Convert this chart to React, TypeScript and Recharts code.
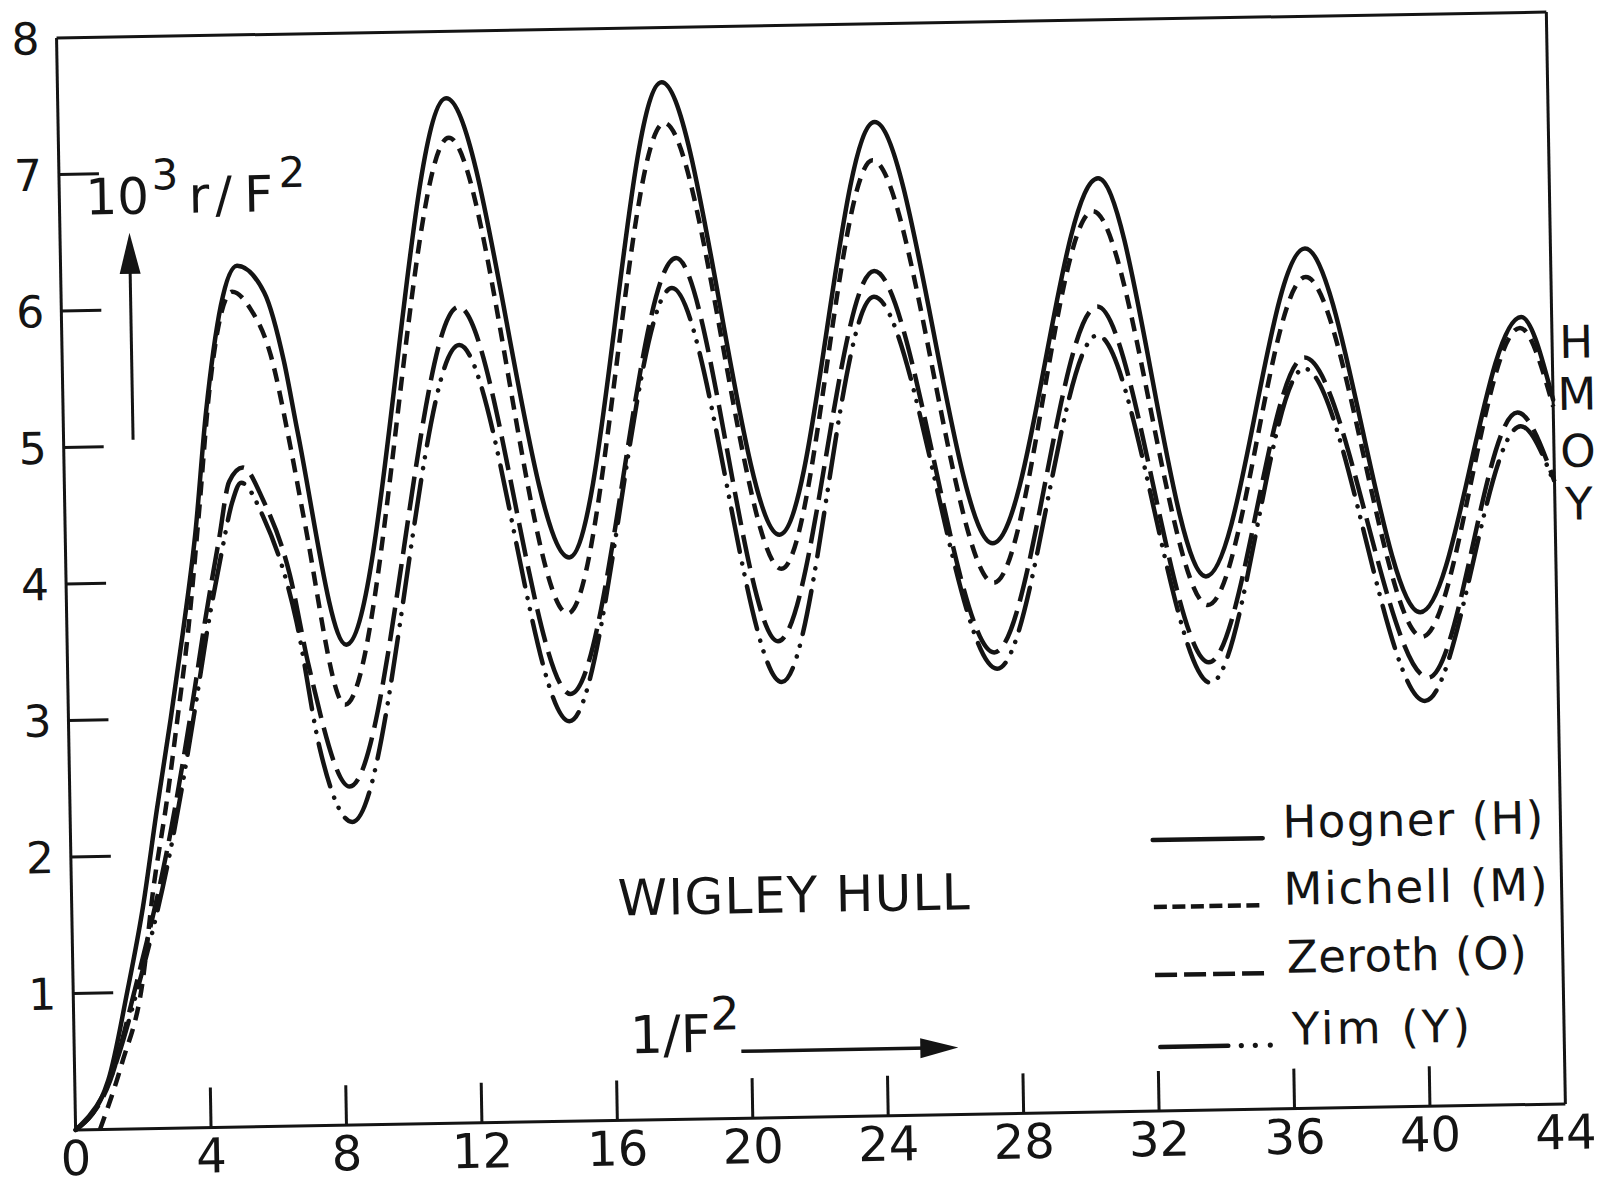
import { LineChart, Line, XAxis, YAxis, ReferenceLine } from "recharts";

type Pt = [number, number];

// 10^3 r/F^2 against 1/F^2 for the Wigley hull, one array per method
const hogner: Pt[] = [
  [0, 0], [0.99, 0.36], [1.6, 1.01], [2.1, 1.62], [2.56, 2.33], [3.02, 3.0],
  [3.43, 3.64], [3.84, 4.35], [4.22, 5.24], [5.21, 6.31],
  [6.0, 6.11], [6.55, 5.6], [6.91, 5.09], [8.24, 3.52], [11.47, 7.51],
  [14.87, 4.13], [17.84, 7.6], [21.09, 4.27], [24.11, 7.28], [27.38, 4.18],
  [30.68, 6.84], [33.66, 3.91], [36.75, 6.3], [39.97, 3.62], [43.1, 5.77],
  [44, 5.16],
];

const michell: Pt[] = [
  [0.72, 0], [1.4, 0.48], [2.05, 1.07], [2.41, 1.74], [2.87, 2.41], [3.22, 3.0],
  [3.58, 3.64], [3.95, 4.48], [4.33, 5.4], [5.05, 6.12],
  [5.59, 5.99], [6.16, 5.65], [6.7, 4.97], [7.05, 4.46], [8.17, 3.08],
  [11.53, 7.22], [14.8, 3.72], [17.9, 7.3], [21.13, 4.02], [24.03, 7.0],
  [27.39, 3.89], [30.51, 6.6], [33.7, 3.7], [36.76, 6.09], [40.01, 3.44],
  [43.06, 5.69], [44, 5.11],
];

const zeroth: Pt[] = [
  [0, 0], [1.05, 0.36], [1.8, 1.0], [2.95, 2.16], [3.74, 3.21], [4.09, 3.72],
  [4.54, 4.31], [4.87, 4.73], [5.28, 4.83], [5.86, 4.59], [6.61, 4.04],
  [7.13, 3.36], [8.27, 2.48], [11.73, 5.98], [14.84, 3.13], [18.18, 6.31],
  [20.99, 3.49], [24.02, 6.19], [27.37, 3.38], [30.59, 5.9], [33.7, 3.28],
  [36.68, 5.5], [40.17, 3.14], [42.94, 5.07], [44, 4.56],
];

const yim: Pt[] = [
  [0, 0], [1.0, 0.34], [1.85, 0.98], [3.0, 2.1], [3.8, 3.15], [4.15, 3.65],
  [4.6, 4.2], [4.95, 4.58], [5.22, 4.72], [5.85, 4.47], [6.78, 3.7],
  [7.4, 2.77], [8.33, 2.22], [11.73, 5.7], [14.79, 2.93], [18.04, 6.09],
  [21.08, 3.19], [24.0, 6.0], [27.45, 3.26], [30.58, 5.69], [33.74, 3.13],
  [36.67, 5.42], [40.06, 2.97], [43.03, 4.97], [44, 4.54],
];

const xTicks = [0, 4, 8, 12, 16, 20, 24, 28, 32, 36, 40, 44];
const yTicks = [1, 2, 3, 4, 5, 6, 7, 8];

const W = 1606;
const H = 1184;
const INK = "#141414";
const FONT = "'DejaVu Sans', sans-serif";
const TICK = 40;

const series = [
  { tag: "H", name: "Hogner (H)", pts: hogner, dash: undefined, cap: "round" },
  { tag: "M", name: "Michell (M)", pts: michell, dash: "14 9", cap: "butt" },
  { tag: "O", name: "Zeroth (O)", pts: zeroth, dash: "34 10", cap: "butt" },
  { tag: "Y", name: "Yim (Y)", pts: yim, dash: "44 12 0.1 11 0.1 12", cap: "round" },
];

const rows = (pts: Pt[]) => pts.map(([x, y]) => ({ x, y }));

const XTick = (props: any) => {
  const { x, y, payload } = props;
  const v = payload.value as number;
  const corner = v === xTicks[0] || v === xTicks[xTicks.length - 1];
  return (
    <g>
      {!corner && (
        <line x1={x} y1={y} x2={x} y2={y - TICK} stroke={INK} strokeWidth={3} />
      )}
      <text x={x} y={y + 45} textAnchor="middle" fontFamily={FONT} fontSize={48} fill={INK}>
        {v}
      </text>
    </g>
  );
};

const YTick = (props: any) => {
  const { x, y, payload } = props;
  const v = payload.value as number;
  const top = v === yTicks[yTicks.length - 1];
  return (
    <g>
      {!top && (
        <line x1={x} y1={y} x2={x + TICK} y2={y} stroke={INK} strokeWidth={3} />
      )}
      <text x={x - 31} y={y} dy="0.36em" textAnchor="middle" fontFamily={FONT} fontSize={44} fill={INK}>
        {v}
      </text>
    </g>
  );
};

// legend sample strokes
function Sample({ tag, y }: { tag: string; y: number }) {
  const x0 = 1148;
  const x1 = 1258;
  if (tag === "H") {
    return <line x1={x0} y1={y} x2={x1} y2={y} stroke={INK} strokeWidth={4.5} strokeLinecap="round" />;
  }
  if (tag === "M") {
    return <line x1={x0} y1={y} x2={x1} y2={y} stroke={INK} strokeWidth={4.5} strokeDasharray="13 5.5" />;
  }
  if (tag === "O") {
    return <line x1={x0} y1={y} x2={x1} y2={y} stroke={INK} strokeWidth={4.5} strokeDasharray="22 7" />;
  }
  return (
    <g fill={INK}>
      <line x1={x0 + 4} y1={y} x2={x0 + 72} y2={y} stroke={INK} strokeWidth={4.5} strokeLinecap="round" />
      <circle cx={x0 + 85} cy={y} r={2.6} />
      <circle cx={x0 + 99} cy={y} r={2.6} />
      <circle cx={x0 + 114} cy={y} r={2.6} />
    </g>
  );
}

const legendRows = [
  { tag: "H", y: 846, textX: 1278, len: 261 },
  { tag: "M", y: 913, textX: 1278, len: 264 },
  { tag: "O", y: 981, textX: 1280, len: 240 },
  { tag: "Y", y: 1053, textX: 1284, len: 178 },
];

const sideTags = [
  { tag: "H", y: 371 },
  { tag: "M", y: 423 },
  { tag: "O", y: 480 },
  { tag: "Y", y: 533 },
];

function Annotations() {
  const text = { fontFamily: FONT, fill: INK };
  return (
    <svg
      width={W}
      height={H}
      style={{ position: "absolute", left: 0, top: 0, pointerEvents: "none", overflow: "visible" }}
    >
      <text x={92} y={202} fontSize={50} {...text}>
        10
        <tspan dy={-24} dx={3} fontSize={42}>3</tspan>
        <tspan dy={24} dx={10} fontSize={50}>r</tspan>
        <tspan dx={6}>/</tspan>
        <tspan dx={12}>F</tspan>
        <tspan dy={-24} dx={6} fontSize={42}>2</tspan>
      </text>
      <line x1={135.5} y1={428} x2={135.5} y2={250} stroke={INK} strokeWidth={3} />
      <polygon points="135.5,221 125,262 146,262" fill={INK} />

      <text x={612} y={912} fontSize={50} textLength={352} lengthAdjust="spacing" {...text}>
        WIGLEY HULL
      </text>

      <text x={622} y={1050} fontSize={52} {...text}>
        1/F
        <tspan dy={-22} fontSize={46}>2</tspan>
      </text>
      <line x1={733} y1={1050} x2={920} y2={1050} stroke={INK} strokeWidth={3.5} />
      <polygon points="950,1050 912,1040 912,1060" fill={INK} />

      {legendRows.map((r) => {
        const s = series.find((d) => d.tag === r.tag)!;
        return (
          <g key={r.tag}>
            <Sample tag={r.tag} y={r.y} />
            <text x={r.textX} y={r.y} fontSize={45} textLength={r.len} lengthAdjust="spacing" {...text}>
              {s.name}
            </text>
          </g>
        );
      })}

      {sideTags.map((t) => (
        <text key={t.tag} x={1580} y={t.y} fontSize={45} textAnchor="middle" {...text}>
          {t.tag}
        </text>
      ))}
    </svg>
  );
}

export default function App() {
  return (
    <div
      style={{
        position: "absolute",
        left: 0,
        top: 0,
        width: W,
        height: H,
        background: "#fff",
        transform: "rotate(-1deg)",
        transformOrigin: "811px 573px",
      }}
    >
      <LineChart width={W} height={H} margin={{ top: 25, right: 50, bottom: 66, left: 65 }}>
        <XAxis
          dataKey="x"
          type="number"
          domain={[0, 44]}
          ticks={xTicks}
          interval={0}
          height={1}
          tickSize={0}
          tickMargin={0}
          tickLine={false}
          axisLine={{ stroke: INK, strokeWidth: 3 }}
          tick={XTick}
        />
        <YAxis
          type="number"
          domain={[0, 8]}
          ticks={yTicks}
          interval={0}
          width={1}
          tickSize={0}
          tickMargin={0}
          tickLine={false}
          axisLine={{ stroke: INK, strokeWidth: 3 }}
          tick={YTick}
        />
        <ReferenceLine y={8} stroke={INK} strokeWidth={3} />
        <ReferenceLine x={44} stroke={INK} strokeWidth={3} />
        {series.map((s) => (
          <Line
            key={s.tag}
            data={rows(s.pts)}
            dataKey="y"
            name={s.name}
            type="monotone"
            stroke={INK}
            strokeWidth={4.5}
            strokeDasharray={s.dash}
            strokeLinecap={s.cap as any}
            strokeLinejoin="round"
            dot={false}
            activeDot={false}
            isAnimationActive={false}
          />
        ))}
      </LineChart>
      <Annotations />
    </div>
  );
}
